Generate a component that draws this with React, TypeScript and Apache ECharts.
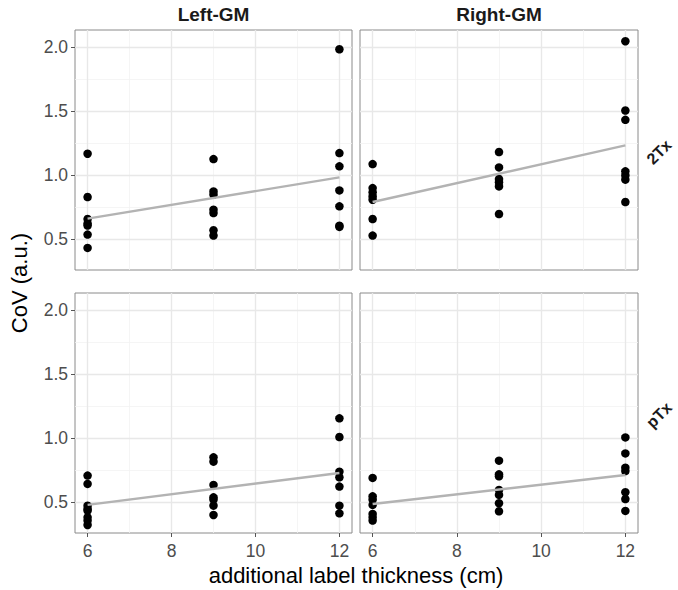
import React, { useEffect, useRef } from 'react';
import * as echarts from 'echarts';

const thickness = [6, 9, 12];
const xTicks = [6, 8, 10, 12];
const xMinorTicks = [7, 9, 11];
const yTicks = [0.5, 1.0, 1.5, 2.0];
const yMinorTicks = [0.75, 1.25, 1.75];
const columnLabels = ['Left-GM', 'Right-GM'];
const rowLabels = ['2Tx', 'pTx'];

// values per thickness level (6, 9, 12 cm)
const leftGM2Tx = [
  [1.167, 0.828, 0.656, 0.62, 0.605, 0.534, 0.43],
  [1.125, 0.872, 0.846, 0.729, 0.703, 0.568, 0.526],
  [1.984, 1.172, 1.068, 0.88, 0.755, 0.604, 0.594],
];
const rightGM2Tx = [
  [1.086, 0.898, 0.865, 0.833, 0.807, 0.656, 0.526],
  [1.18, 1.06, 0.969, 0.943, 0.911, 0.695],
  [2.047, 1.505, 1.432, 1.029, 0.997, 0.964, 0.789],
];
const leftGMpTx = [
  [0.706, 0.641, 0.471, 0.445, 0.432, 0.38, 0.354, 0.32],
  [0.849, 0.815, 0.633, 0.536, 0.518, 0.471, 0.398],
  [1.154, 1.008, 0.737, 0.693, 0.62, 0.471, 0.411],
];
const rightGMpTx = [
  [0.688, 0.544, 0.518, 0.477, 0.406, 0.38, 0.354],
  [0.823, 0.716, 0.701, 0.594, 0.555, 0.49, 0.427],
  [1.005, 0.88, 0.768, 0.742, 0.576, 0.523, 0.43],
];

// fitted line values at 6 cm and 12 cm
const fitLeftGM2Tx = [0.659, 0.982];
const fitRightGM2Tx = [0.789, 1.232];
const fitLeftGMpTx = [0.477, 0.727];
const fitRightGMpTx = [0.484, 0.711];

const FONT = '"Liberation Sans", Arial, Helvetica, sans-serif';

export default function App() {
  const ref = useRef<HTMLDivElement>(null);

  useEffect(() => {
    if (!ref.current) return;
    const chart = echarts.init(ref.current, undefined, { renderer: 'svg' });

    const panels = [
      { values: leftGM2Tx, fit: fitLeftGM2Tx, col: 0, row: 0 },
      { values: rightGM2Tx, fit: fitRightGM2Tx, col: 1, row: 0 },
      { values: leftGMpTx, fit: fitLeftGMpTx, col: 0, row: 1 },
      { values: rightGMpTx, fit: fitRightGMpTx, col: 1, row: 1 },
    ];
    const colLeft = [75, 360];
    const colWidth = [277, 278];
    const rowTop = [30, 293];
    const panelHeight = 240;

    const grids: any[] = [];
    const xAxes: any[] = [];
    const yAxes: any[] = [];
    const series: any[] = [];

    panels.forEach((p, i) => {
      grids.push({
        left: colLeft[p.col],
        top: rowTop[p.row],
        width: colWidth[p.col],
        height: panelHeight,
        show: true,
        backgroundColor: '#ffffff',
        borderColor: '#8a8a8a',
        borderWidth: 1,
      });
      const bottom = p.row === 1;
      const left = p.col === 0;
      xAxes.push({
        type: 'value',
        gridIndex: i,
        min: 5.7,
        max: 12.3,
        axisLine: { show: false },
        splitLine: { show: false },
        axisTick: {
          show: bottom,
          customValues: xTicks,
          length: 4,
          lineStyle: { color: '#555', width: 1 },
        },
        axisLabel: {
          show: bottom,
          customValues: xTicks,
          color: '#4d4d4d',
          fontSize: 17.5,
          fontFamily: FONT,
          margin: 9,
        },
      });
      yAxes.push({
        type: 'value',
        gridIndex: i,
        min: 0.257,
        max: 2.135,
        axisLine: { show: false },
        splitLine: { show: false },
        axisTick: {
          show: left,
          customValues: yTicks,
          length: 4,
          lineStyle: { color: '#555', width: 1 },
        },
        axisLabel: {
          show: left,
          customValues: yTicks,
          color: '#4d4d4d',
          fontSize: 17.5,
          fontFamily: FONT,
          margin: 7,
          formatter: (v: number) => v.toFixed(1),
        },
      });

      const major = { color: '#e8e8e8', width: 1.4, type: 'solid' };
      const minor = { color: '#f2f2f2', width: 0.8, type: 'solid' };
      series.push({
        type: 'scatter',
        xAxisIndex: i,
        yAxisIndex: i,
        data: [],
        silent: true,
        z: 0,
        markLine: {
          silent: true,
          z: 0,
          symbol: ['none', 'none'],
          label: { show: false },
          animation: false,
          data: [
            ...yMinorTicks.map((v) => ({ yAxis: v, lineStyle: minor })),
            ...xMinorTicks.map((v) => ({ xAxis: v, lineStyle: minor })),
            ...yTicks.map((v) => ({ yAxis: v, lineStyle: major })),
            ...xTicks.map((v) => ({ xAxis: v, lineStyle: major })),
          ],
        },
      });
      series.push({
        type: 'scatter',
        xAxisIndex: i,
        yAxisIndex: i,
        z: 3,
        symbolSize: 8.5,
        itemStyle: { color: '#000000', opacity: 1 },
        data: thickness.flatMap((t, k) => p.values[k].map((v) => [t, v])),
      });
      series.push({
        type: 'line',
        xAxisIndex: i,
        yAxisIndex: i,
        z: 4,
        symbol: 'none',
        showSymbol: false,
        lineStyle: { color: '#b3b3b3', width: 2.4 },
        data: [
          [thickness[0], p.fit[0]],
          [thickness[thickness.length - 1], p.fit[1]],
        ],
      });
    });

    const graphic: any[] = [
      ...columnLabels.map((t, c) => ({
        type: 'text',
        x: colLeft[c] + colWidth[c] / 2,
        y: 14,
        style: {
          text: t,
          fill: '#1a1a1a',
          font: `bold 19px ${FONT}`,
          align: 'center',
          verticalAlign: 'middle',
        },
      })),
      ...rowLabels.map((t, r) => ({
        type: 'text',
        x: 659,
        y: rowTop[r] + panelHeight / 2 + 2,
        rotation: Math.PI / 4,
        style: {
          text: t,
          fill: '#1a1a1a',
          font: `bold 16px ${FONT}`,
          align: 'center',
          verticalAlign: 'middle',
        },
      })),
      {
        type: 'text',
        x: 19,
        y: 283,
        rotation: Math.PI / 2,
        style: {
          text: 'CoV (a.u.)',
          fill: '#000',
          font: `22px ${FONT}`,
          align: 'center',
          verticalAlign: 'middle',
        },
      },
      {
        type: 'text',
        x: 356,
        y: 575,
        style: {
          text: 'additional label thickness (cm)',
          fill: '#000',
          font: `22px ${FONT}`,
          align: 'center',
          verticalAlign: 'middle',
        },
      },
    ];

    chart.setOption({
      animation: false,
      backgroundColor: '#ffffff',
      grid: grids,
      xAxis: xAxes,
      yAxis: yAxes,
      series,
      graphic,
    });

    return () => chart.dispose();
  }, []);

  return (
    <div
      ref={ref}
      style={{ position: 'absolute', left: 0, top: 0, width: 678, height: 590 }}
    />
  );
}
